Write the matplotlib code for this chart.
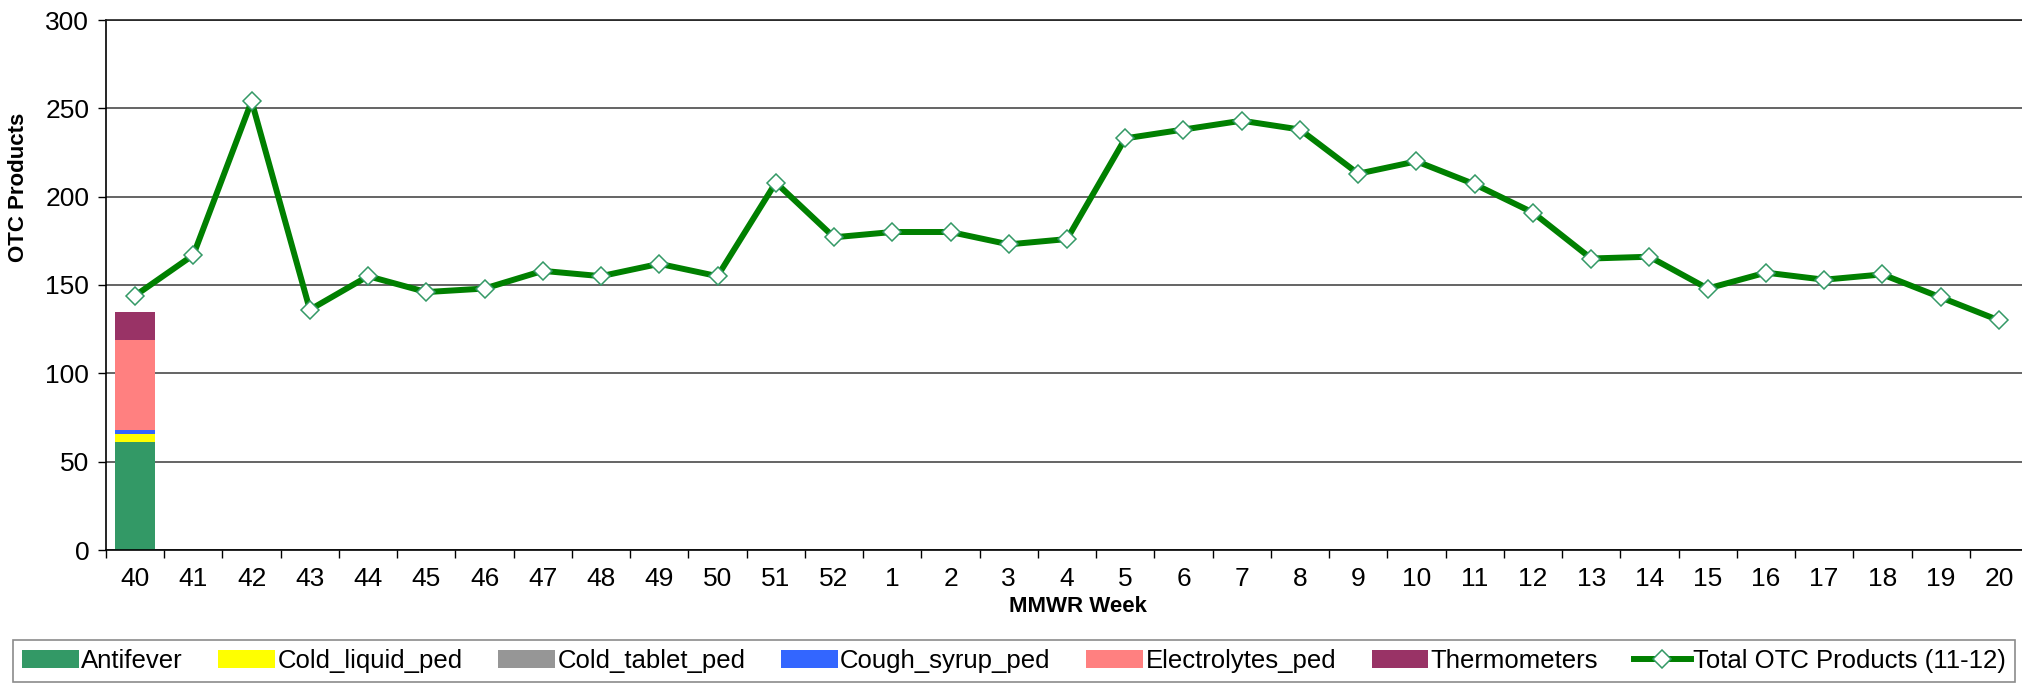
import numpy as np
import matplotlib
matplotlib.use("Agg")
import matplotlib.pyplot as plt
from matplotlib.patches import Patch
from matplotlib.lines import Line2D

# -----------------------------
# DATA
# -----------------------------
weeks = ["40", "41", "42", "43", "44", "45", "46", "47", "48", "49", "50", "51", "52",
         "1", "2", "3", "4", "5", "6", "7", "8", "9", "10", "11", "12", "13", "14",
         "15", "16", "17", "18", "19", "20"]

total_otc = [144, 167, 254, 136, 155, 146, 148, 158, 155, 162, 155, 208, 177,
             180, 180, 173, 176, 233, 238, 243, 238, 213, 220, 207, 191, 165, 166,
             148, 157, 153, 156, 143, 130]

# stacked components (only week 40 reported)
antifever = [61] + [0] * 32
cold_liquid_ped = [4.5] + [0] * 32
cold_tablet_ped = [0] + [0] * 32
cough_syrup_ped = [2.5] + [0] * 32
electrolytes_ped = [51] + [0] * 32
thermometers = [16] + [0] * 32

series_names = ["Antifever", "Cold_liquid_ped", "Cold_tablet_ped", "Cough_syrup_ped",
                "Electrolytes_ped", "Thermometers"]
series_vals = [antifever, cold_liquid_ped, cold_tablet_ped, cough_syrup_ped,
               electrolytes_ped, thermometers]
series_colors = ["#339966", "#FFFF00", "#969696", "#3366FF", "#FF8080", "#993366"]

# -----------------------------
# STYLE
# -----------------------------
plt.rcParams["font.family"] = ["Liberation Sans", "DejaVu Sans"]
W, H = 2022, 691
fig = plt.figure(figsize=(W / 100, H / 100), dpi=100)

ax = fig.add_axes([106 / W, (H - 550) / H, (2028 - 106) / W, 530 / H])

line_kw = dict(color="#008000", lw=4.3, marker="D", markersize=9.5,
               markerfacecolor="white", markeredgecolor="#339966", markeredgewidth=1.1)

x = np.arange(len(weeks))
bottom = np.zeros(len(weeks))
for name, vals, col in zip(series_names, series_vals, series_colors):
    vals = np.array(vals, dtype=float)
    ax.bar(x, vals, width=0.68, bottom=bottom, color=col, label=name, zorder=2)
    bottom += vals

ax.plot(x, total_otc, zorder=3, label="Total OTC Products (11-12)", **line_kw)

ax.set_xlim(-0.5, len(weeks) - 0.5)
ax.set_ylim(0, 300)
ax.set_yticks(np.arange(0, 301, 50))
ax.yaxis.grid(True, color="#4a4a4a", lw=1.2, zorder=0)
ax.set_axisbelow(True)

ax.set_xticks(x)
ax.set_xticklabels(weeks)
ax.set_xticks(np.arange(-0.5, len(weeks)), minor=True)
ax.tick_params(axis="x", which="major", length=0, pad=12, labelsize=19)
ax.tick_params(axis="x", which="minor", length=6, width=1.0, direction="out")
ax.tick_params(axis="y", which="major", length=6, width=1.0, direction="out",
               pad=6, labelsize=19)

for s in ["left", "bottom"]:
    ax.spines[s].set_color("black")
    ax.spines[s].set_linewidth(1.2)
ax.spines["top"].set_color("#202020")
ax.spines["top"].set_linewidth(1.2)
ax.spines["right"].set_visible(False)

fig.text(19 / W, 1 - 187 / H, "OTC Products", rotation=90, ha="center", va="center",
         fontsize=16, fontweight="bold")
fig.text(1078 / W, 1 - 606 / H, "MMWR Week", ha="center", va="center",
         fontsize=16, fontweight="bold")

# -----------------------------
# LEGEND
# -----------------------------
handles = [Patch(facecolor=c, edgecolor="none") for c in series_colors]
handles.append(Line2D([], [], **line_kw))
labels = series_names + ["Total OTC Products (11-12)"]

leg = fig.legend(handles, labels, loc="center left", ncol=7, mode="expand",
                 bbox_to_anchor=(13 / W, 8 / H, 2002 / W, 44 / H),
                 frameon=True, fancybox=False, edgecolor="#6e6e6e",
                 handlelength=2.2, handleheight=0.72, handletextpad=0.1,
                 borderpad=0.35, borderaxespad=0,
                 prop={"family": "Liberation Sans", "size": 18.5})
leg.get_frame().set_linewidth(1.2)

fig.savefig("out.png", dpi=100)
